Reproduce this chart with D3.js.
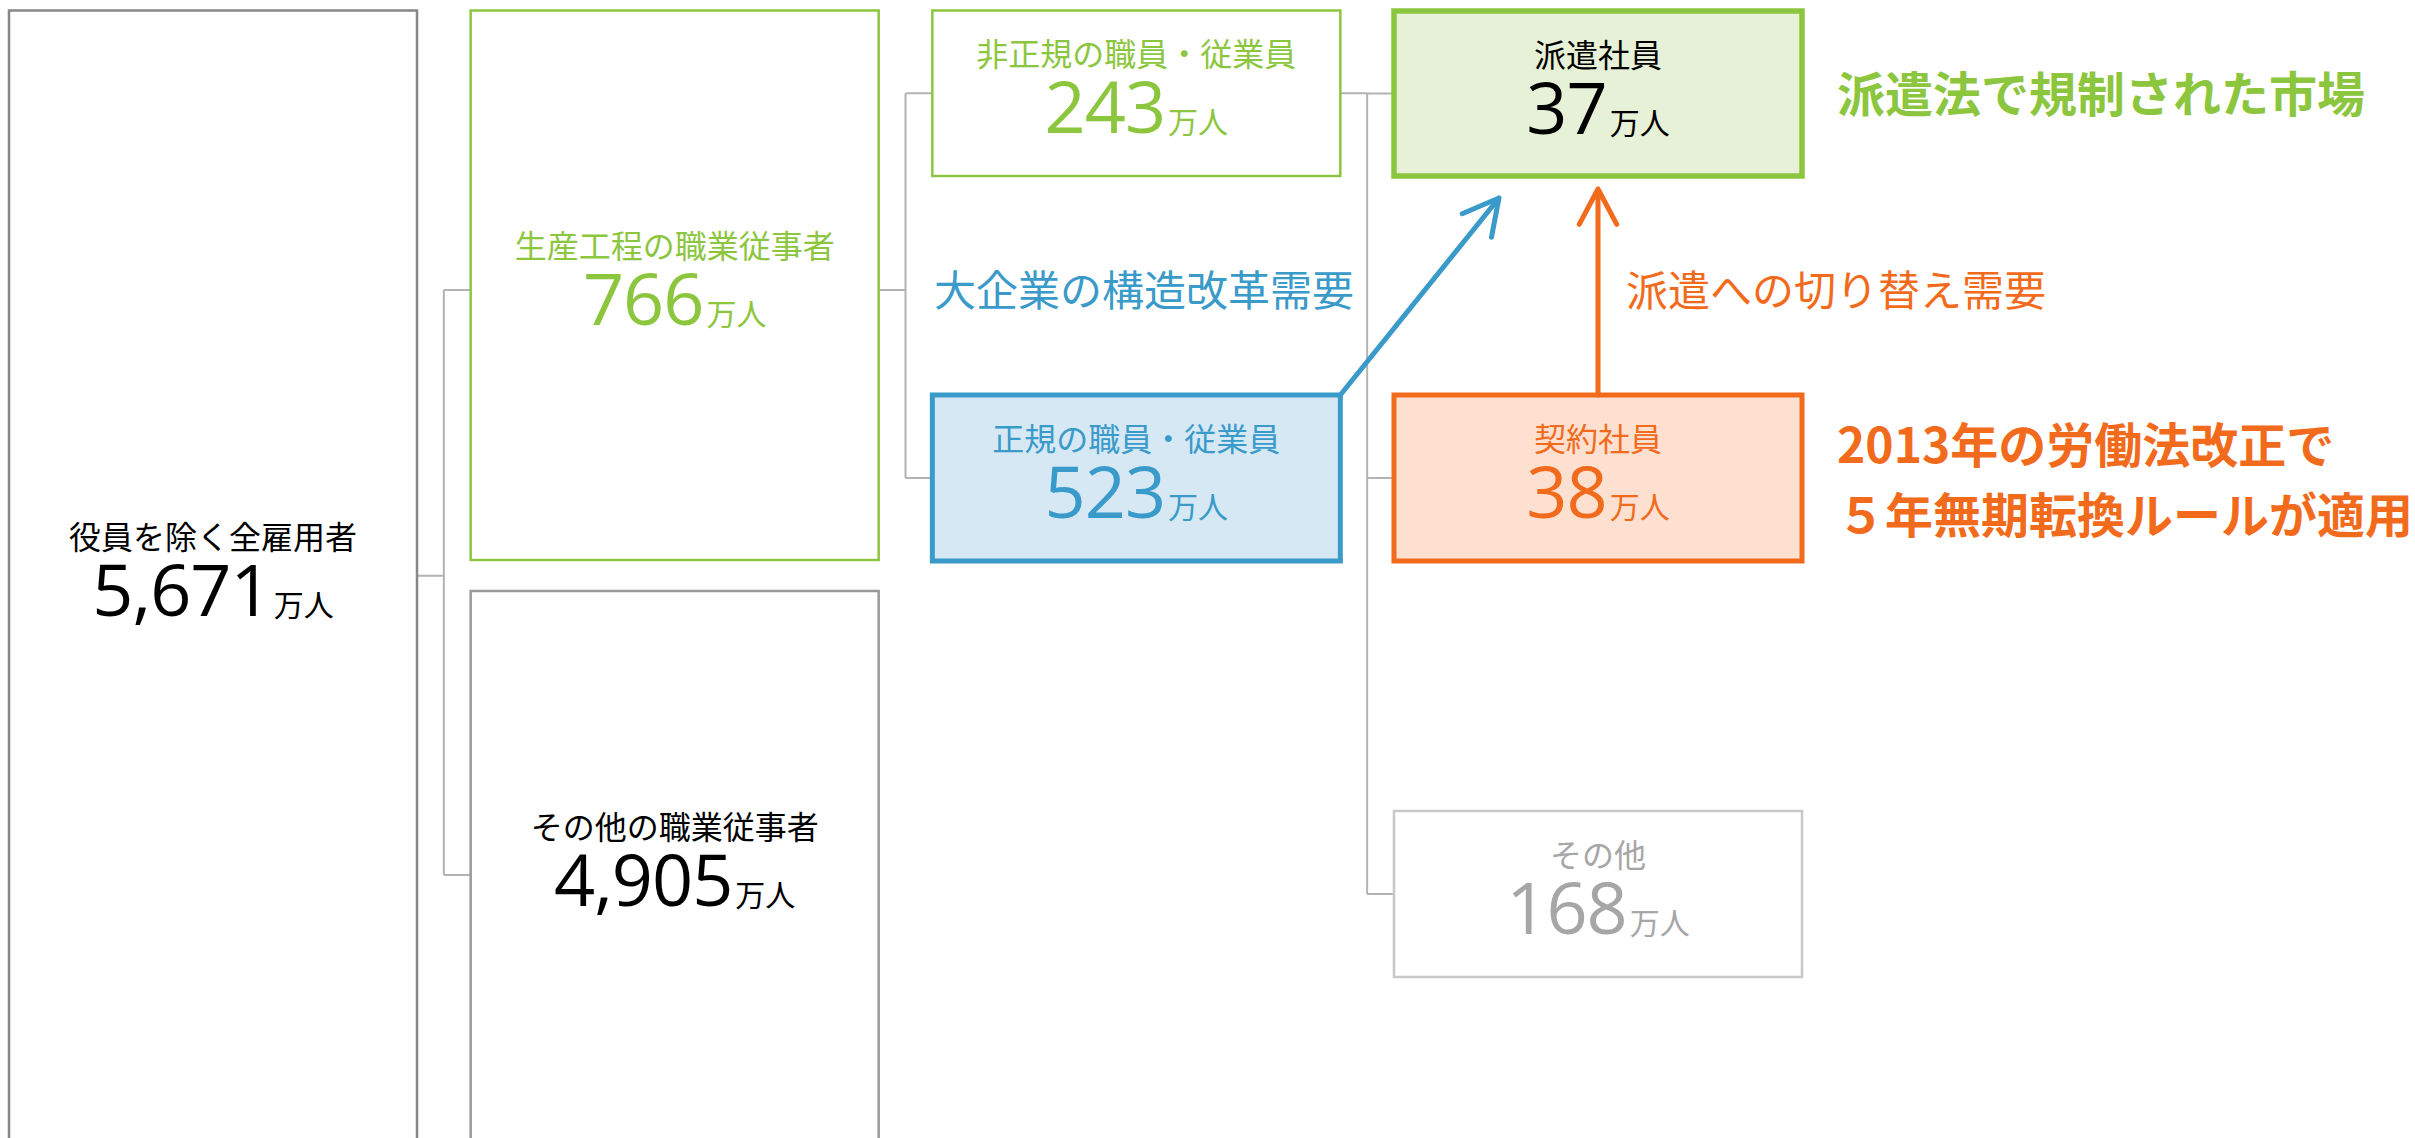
<!DOCTYPE html>
<html lang="ja">
<head>
	<meta charset="UTF-8">
	<title>雇用者の内訳</title>
	<style>
		body { margin: 0; background: #fff; }
		svg { display: block; }
	</style>
</head>
<body>
	<svg></svg>
	<script src="https://d3js.org/d3.v7.min.js"></script>
	<script>
		// データ
		var labels = ["役員を除く全雇用者", "生産工程の職業従事者", "その他の職業従事者",
			"非正規の職員・従業員", "正規の職員・従業員", "派遣社員", "契約社員", "その他"];
		var values = [5671, 766, 4905, 243, 523, 37, 38, 168];
		var parents = [null, 0, 0, 1, 1, 3, 3, 3];
		var unit = "万人";
		var noteTexts = ["大企業の構造改革需要", "派遣への切り替え需要", "派遣法で規制された市場",
			"2013年の労働法改正で", "５年無期転換ルールが適用"];

		var width = 2415, height = 1138;
		var svg = d3.select("svg").attr("width", width).attr("height", height);

		var green = "#8cc63f", blue = "#3a9ac9", orange = "#f26b1d";

		// 列の位置
		var x = d3.scaleLinear().domain([0, 3]).range([9, 1394]);
		var boxW = 408;
		var gap = x(1) - x(0) - boxW;

		// 各ボックスの配置と見た目
		var layout = [
			{col: 0, top: 10.5, bottom: 1141, stroke: "#878787", sw: 2.5, fill: "#fff", color: "#000"},
			{col: 1, top: 10.5, bottom: 560, ly: 290, stroke: green, sw: 2.5, fill: "#fff", color: green},
			{col: 1, top: 591, bottom: 1141, ly: 875, stroke: "#999", sw: 2.5, fill: "#fff", color: "#000"},
			{col: 2, top: 10.5, bottom: 176, stroke: green, sw: 2.5, fill: "#fff", color: green},
			{col: 2, top: 395, bottom: 561, stroke: blue, sw: 5, fill: "#d5e8f4", color: blue},
			{col: 3, top: 11, bottom: 176, stroke: green, sw: 5.5, fill: "#e6f1d7", color: "#000"},
			{col: 3, top: 395, bottom: 561, stroke: orange, sw: 5, fill: "#fde0cf", color: orange},
			{col: 3, top: 811, bottom: 977, stroke: "#c8c8c8", sw: 2.5, fill: "#fff", color: "#a6a6a6"}
		];

		var nodes = labels.map(function(d, i) {
			var l = layout[i];
			var x0 = x(l.col);
			var cy = (l.top + l.bottom) / 2;
			return {
				name: d, value: values[i], parent: parents[i],
				x0: x0, x1: x0 + boxW, y0: l.top, y1: l.bottom,
				cx: x0 + boxW / 2, cy: cy, ly: l.ly != null ? l.ly : cy, style: l
			};
		});

		// 接続線
		var links = svg.append("g")
			.attr("fill", "none")
			.attr("stroke", "#b3b3b3")
			.attr("stroke-width", 2);

		nodes.forEach(function(p, pi) {
			var kids = nodes.filter(function(n) { return n.parent === pi; });
			if (!kids.length) return;
			var tx = p.x1 + gap / 2;
			var ys = kids.map(function(k) { return k.ly; }).concat([p.ly]);
			var path = d3.path();
			path.moveTo(p.x1, p.ly);
			path.lineTo(tx, p.ly);
			path.moveTo(tx, d3.min(ys));
			path.lineTo(tx, d3.max(ys));
			kids.forEach(function(k) {
				path.moveTo(tx, k.ly);
				path.lineTo(k.x0, k.ly);
			});
			links.append("path").attr("d", path.toString());
		});

		// ボックス
		var box = svg.append("g").selectAll("g")
			.data(nodes)
			.enter()
			.append("g");

		box.append("rect")
			.attr("x", function(d) { return d.x0; })
			.attr("y", function(d) { return d.y0; })
			.attr("width", function(d) { return d.x1 - d.x0; })
			.attr("height", function(d) { return d.y1 - d.y0; })
			.attr("fill", function(d) { return d.style.fill; })
			.attr("stroke", function(d) { return d.style.stroke; })
			.attr("stroke-width", function(d) { return d.style.sw; });

		box.append("text")
			.attr("x", function(d) { return d.cx; })
			.attr("y", function(d) { return d.cy - 41; })
			.attr("text-anchor", "middle")
			.attr("dominant-baseline", "central")
			.attr("font-family", "'Noto Sans CJK JP', sans-serif")
			.attr("font-size", 32)
			.attr("fill", function(d) { return d.style.color; })
			.text(function(d) { return d.name; });

		var num = box.append("text")
			.attr("x", function(d) { return d.cx; })
			.attr("y", function(d) { return d.cy + 40; })
			.attr("text-anchor", "middle")
			.attr("fill", function(d) { return d.style.color; });

		num.append("tspan")
			.attr("font-family", "'Open Sans', 'Noto Sans', sans-serif")
			.attr("font-size", 72)
			.attr("letter-spacing", -1)
			.text(function(d) { return d3.format(",")(d.value); });

		num.append("tspan")
			.attr("dx", 3)
			.attr("font-family", "'Noto Sans CJK JP', sans-serif")
			.attr("font-size", 30)
			.text(unit);

		// 矢印
		function arrow(from, to, color) {
			var ang = Math.atan2(to[1] - from[1], to[0] - from[0]);
			var len = 40, spread = 28 * Math.PI / 180;
			var p = d3.path();
			p.moveTo(from[0], from[1]);
			p.lineTo(to[0], to[1]);
			p.moveTo(to[0] - len * Math.cos(ang - spread), to[1] - len * Math.sin(ang - spread));
			p.lineTo(to[0], to[1]);
			p.lineTo(to[0] - len * Math.cos(ang + spread), to[1] - len * Math.sin(ang + spread));
			svg.append("path")
				.attr("d", p.toString())
				.attr("fill", "none")
				.attr("stroke", color)
				.attr("stroke-width", 5)
				.attr("stroke-linecap", "round")
				.attr("stroke-linejoin", "round");
		}
		var reg = nodes[4], haken = nodes[5], keiyaku = nodes[6];
		arrow([reg.x1, reg.y0], [1499, haken.y1 + 22], blue);
		arrow([keiyaku.cx, keiyaku.y0], [keiyaku.cx, haken.y1 + 13], orange);

		// 注記
		var notes = [
			{x: 934, y: 287, size: 42, weight: 400, color: blue},
			{x: 1626, y: 287, size: 42, weight: 400, color: orange},
			{x: 1837, y: 91, size: 48, weight: 700, color: green},
			{x: 1837, y: 442, size: 48, weight: 700, color: orange},
			{x: 1837, y: 512, size: 48, weight: 700, color: orange}
		];
		svg.append("g").selectAll("text")
			.data(noteTexts)
			.enter()
			.append("text")
			.attr("x", function(d, i) { return notes[i].x; })
			.attr("y", function(d, i) { return notes[i].y; })
			.attr("dominant-baseline", "central")
			.attr("font-family", "'Noto Sans CJK JP', sans-serif")
			.attr("font-size", function(d, i) { return notes[i].size; })
			.attr("font-weight", function(d, i) { return notes[i].weight; })
			.attr("fill", function(d, i) { return notes[i].color; })
			.text(function(d) { return d; });
	</script>
</body>
</html>
